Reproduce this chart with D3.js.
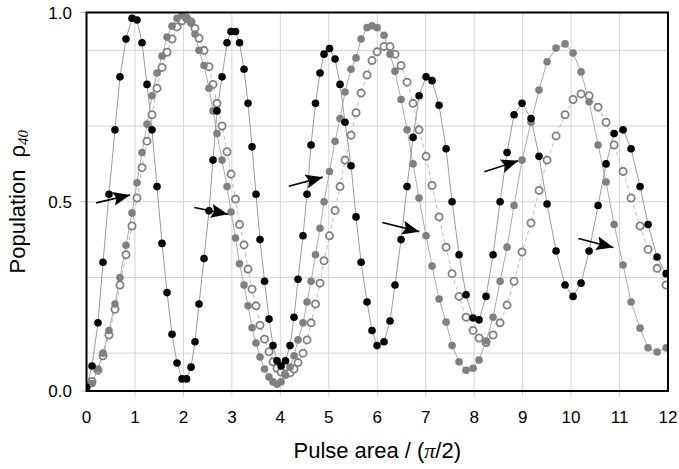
<!DOCTYPE html>
<html>
<head>
<meta charset="utf-8">
<script src="https://cdn.jsdelivr.net/npm/d3@7"></script>
<style>
  body { margin: 0; background: #fff; }
  text { font-family: "Liberation Sans", Arial, sans-serif; fill: #000; }
</style>
</head>
<body>
<svg id="vis"></svg>
<script>
const width = 679;
const height = 469;

// pulse area in units of pi/2 (shared by the three series)
const pulseArea = [0, 0.114, 0.237, 0.341, 0.464, 0.588, 0.691, 0.815, 0.939, 1.042,
  1.146, 1.249, 1.352, 1.455, 1.558, 1.662, 1.765, 1.868, 1.971, 2.064,
  2.157, 2.239, 2.322, 2.425, 2.528, 2.611, 2.693, 2.797, 2.900, 2.982,
  3.075, 3.158, 3.251, 3.333, 3.416, 3.498, 3.581, 3.674, 3.767, 3.849,
  3.932, 4.015, 4.107, 4.200, 4.283, 4.365, 4.468, 4.551, 4.634, 4.726,
  4.819, 4.902, 5.015, 5.129, 5.232, 5.335, 5.459, 5.562, 5.666, 5.789,
  5.892, 5.996, 6.140, 6.264, 6.367, 6.491, 6.615, 6.739, 6.863, 7.007,
  7.131, 7.276, 7.420, 7.544, 7.688, 7.833, 7.977, 8.101, 8.246, 8.390,
  8.535, 8.679, 8.823, 8.988, 9.174, 9.339, 9.505, 9.690, 9.876, 10.041,
  10.206, 10.372, 10.557, 10.722, 10.888, 11.073, 11.238, 11.424, 11.589, 11.775,
  11.961, 12.126];

// filled black dots
const blackPop = [0.01, 0.066, 0.18, 0.34, 0.52, 0.69, 0.83, 0.93, 0.985, 0.98,
  0.92, 0.81, 0.69, 0.54, 0.39, 0.26, 0.15, 0.074, 0.032, 0.032,
  0.063, 0.13, 0.23, 0.35, 0.476, 0.61, 0.74, 0.83, 0.92, 0.95,
  0.95, 0.92, 0.85, 0.76, 0.645, 0.52, 0.40, 0.29, 0.19, 0.12,
  0.08, 0.066, 0.08, 0.12, 0.195, 0.295, 0.41, 0.52, 0.65, 0.76,
  0.84, 0.89, 0.905, 0.877, 0.81, 0.71, 0.595, 0.46, 0.34, 0.235,
  0.16, 0.12, 0.13, 0.185, 0.28, 0.40, 0.54, 0.67, 0.78, 0.83,
  0.82, 0.755, 0.64, 0.50, 0.36, 0.254, 0.193, 0.188, 0.25, 0.36,
  0.50, 0.63, 0.73, 0.76, 0.72, 0.62, 0.494, 0.37, 0.28, 0.25,
  0.285, 0.37, 0.49, 0.60, 0.68, 0.69, 0.64, 0.54, 0.44, 0.354,
  0.31, 0.27];

// filled grey dots
const grayPop = [0.01, 0.02, 0.058, 0.10, 0.16, 0.23, 0.30, 0.385, 0.47, 0.55,
  0.63, 0.705, 0.78, 0.84, 0.885, 0.935, 0.964, 0.985, 0.993, 0.985,
  0.972, 0.943, 0.90, 0.86, 0.80, 0.74, 0.68, 0.61, 0.54, 0.473,
  0.404, 0.336, 0.28, 0.225, 0.167, 0.127, 0.09, 0.058, 0.037, 0.024,
  0.018, 0.024, 0.042, 0.063, 0.093, 0.135, 0.18, 0.235, 0.29, 0.36,
  0.43, 0.50, 0.58, 0.66, 0.72, 0.79, 0.85, 0.88, 0.93, 0.96,
  0.965, 0.96, 0.94, 0.89, 0.845, 0.77, 0.69, 0.60, 0.51, 0.41,
  0.33, 0.243, 0.182, 0.12, 0.077, 0.055, 0.06, 0.082, 0.132, 0.195,
  0.29, 0.38, 0.49, 0.61, 0.71, 0.795, 0.87, 0.906, 0.917, 0.893,
  0.843, 0.764, 0.65, 0.552, 0.44, 0.333, 0.235, 0.166, 0.114, 0.103,
  0.114, 0.15];

// open grey circles
const openPop = [0.012, 0.025, 0.055, 0.093, 0.148, 0.216, 0.28, 0.36, 0.436, 0.51,
  0.59, 0.66, 0.73, 0.80, 0.855, 0.895, 0.93, 0.962, 0.978, 0.985,
  0.975, 0.958, 0.932, 0.90, 0.857, 0.81, 0.76, 0.70, 0.632, 0.573,
  0.507, 0.44, 0.386, 0.322, 0.269, 0.225, 0.174, 0.137, 0.104, 0.077,
  0.06, 0.05, 0.045, 0.048, 0.058, 0.075, 0.10, 0.135, 0.18, 0.23,
  0.285, 0.344, 0.41, 0.477, 0.54, 0.61, 0.676, 0.735, 0.787, 0.835,
  0.873, 0.896, 0.91, 0.91, 0.89, 0.86, 0.816, 0.76, 0.69, 0.62,
  0.543, 0.46, 0.38, 0.31, 0.25, 0.195, 0.16, 0.14, 0.128, 0.148,
  0.18, 0.227, 0.29, 0.367, 0.444, 0.53, 0.61, 0.674, 0.73, 0.77,
  0.785, 0.78, 0.75, 0.71, 0.65, 0.58, 0.51, 0.436, 0.374, 0.324,
  0.28, 0.24];

const xTicks = [0, 1, 2, 3, 4, 5, 6, 7, 8, 9, 10, 11, 12];
const yTicks = [0, 0.5, 1];
const yGrid = [0.1, 0.3, 0.5, 0.7, 0.9];

// annotation arrows: [x1, y1, x2, y2] in data units
const arrows = [
  [0.196, 0.497, 0.90, 0.518],
  [2.225, 0.485, 2.92, 0.467],
  [4.173, 0.541, 4.875, 0.565],
  [6.105, 0.445, 6.869, 0.421],
  [8.21, 0.579, 8.906, 0.608],
  [10.15, 0.403, 10.873, 0.379]
];

const x = d3.scaleLinear().domain([0, 12]).range([86.5, 668]);
const y = d3.scaleLinear().domain([0, 1]).range([391, 12.5]);

let svg = d3.select("#vis")
    .attr("width", width)
    .attr("height", height);

let defs = svg.append("defs");
defs.append("clipPath").attr("id", "plotclip")
  .append("rect")
    .attr("x", x(0)).attr("y", y(1))
    .attr("width", x(12) - x(0)).attr("height", y(0) - y(1));

defs.append("marker")
    .attr("id", "head")
    .attr("markerUnits", "userSpaceOnUse")
    .attr("markerWidth", 18).attr("markerHeight", 14)
    .attr("refX", 17).attr("refY", 7)
    .attr("orient", "auto")
  .append("path")
    .attr("d", "M0,0 L17,7 L0,14 L3,7 Z")
    .attr("fill", "#000");

// grid
let grid = svg.append("g");
grid.selectAll("line.vg")
  .data(xTicks.slice(1, -1))
  .enter().append("line")
    .attr("x1", d => x(d)).attr("x2", d => x(d))
    .attr("y1", y(1)).attr("y2", y(0) + 6)
    .attr("stroke", "#d4d4d4").attr("stroke-width", 1);
grid.selectAll("line.hg")
  .data(yGrid)
  .enter().append("line")
    .attr("x1", x(0)).attr("x2", x(12))
    .attr("y1", d => y(d)).attr("y2", d => y(d))
    .attr("stroke", "#d4d4d4").attr("stroke-width", 1);
grid.selectAll("line.yt")
  .data(yTicks)
  .enter().append("line")
    .attr("x1", x(0) - 6).attr("x2", x(0))
    .attr("y1", d => y(d)).attr("y2", d => y(d))
    .attr("stroke", "#bbb").attr("stroke-width", 1);

// series
const series = [
  {values: openPop, line: "#bcbcbc", dash: "4,3", kind: "open"},
  {values: grayPop, line: "#ababab", dash: null, kind: "gray"},
  {values: blackPop, line: "#9c9c9c", dash: null, kind: "black"}
];

let plot = svg.append("g").attr("clip-path", "url(#plotclip)");

const lineGen = d3.line()
    .x(d => x(d[0]))
    .y(d => y(d[1]));

series.forEach(s => {
  let pts = pulseArea.map((a, i) => [a, s.values[i]]);
  plot.append("path")
      .datum(pts)
      .attr("d", lineGen)
      .attr("fill", "none")
      .attr("stroke", s.line)
      .attr("stroke-width", 1)
      .attr("stroke-dasharray", s.dash);
});

series.forEach(s => {
  let pts = pulseArea.map((a, i) => [a, s.values[i]]);
  plot.append("g").selectAll("circle")
    .data(pts)
    .enter().append("circle")
      .attr("cx", d => x(d[0]))
      .attr("cy", d => y(d[1]))
      .attr("r", s.kind == "open" ? 3.6 : 3.8)
      .attr("fill", s.kind == "black" ? "#000" : (s.kind == "gray" ? "#808080" : "#fff"))
      .attr("stroke", s.kind == "open" ? "#808080" : "none")
      .attr("stroke-width", 1.8);
});

// arrows
svg.append("g").selectAll("line")
  .data(arrows)
  .enter().append("line")
    .attr("x1", d => x(d[0])).attr("y1", d => y(d[1]))
    .attr("x2", d => x(d[2])).attr("y2", d => y(d[3]))
    .attr("stroke", "#000").attr("stroke-width", 1.6)
    .attr("marker-end", "url(#head)");

// frame
svg.append("rect")
    .attr("x", x(0)).attr("y", y(1))
    .attr("width", x(12) - x(0)).attr("height", y(0) - y(1))
    .attr("fill", "none")
    .attr("stroke", "#000")
    .attr("stroke-width", 2);

// tick labels
svg.append("g").selectAll("text")
  .data(xTicks)
  .enter().append("text")
    .attr("x", d => x(d))
    .attr("y", 423)
    .attr("text-anchor", "middle")
    .style("font-size", "17px")
    .text(d => d);

svg.append("g").selectAll("text")
  .data(yTicks)
  .enter().append("text")
    .attr("x", 72)
    .attr("y", d => y(d) + 6)
    .attr("text-anchor", "end")
    .style("font-size", "17px")
    .text(d => d.toFixed(1));

// axis titles
let xt = svg.append("text")
    .attr("x", (x(0) + x(12)) / 2)
    .attr("y", 458)
    .attr("text-anchor", "middle")
    .style("font-size", "22px");
xt.append("tspan").text("Pulse area / (");
xt.append("tspan").text("\u03c0").style("font-style", "italic")
    .style("font-family", "'Liberation Serif', serif");
xt.append("tspan").text("/2)");

let yt = svg.append("text")
    .attr("transform", `translate(25, ${(y(0) + y(1)) / 2}) rotate(-90)`)
    .attr("text-anchor", "middle")
    .style("font-size", "22px");
yt.append("tspan").text("Population");
yt.append("tspan").attr("dx", 12).text("\u03c1");
yt.append("tspan").attr("dy", 3).style("font-size", "15px")
    .style("font-style", "italic")
    .style("font-family", "'Liberation Serif', serif")
    .text("40");
</script>
</body>
</html>
